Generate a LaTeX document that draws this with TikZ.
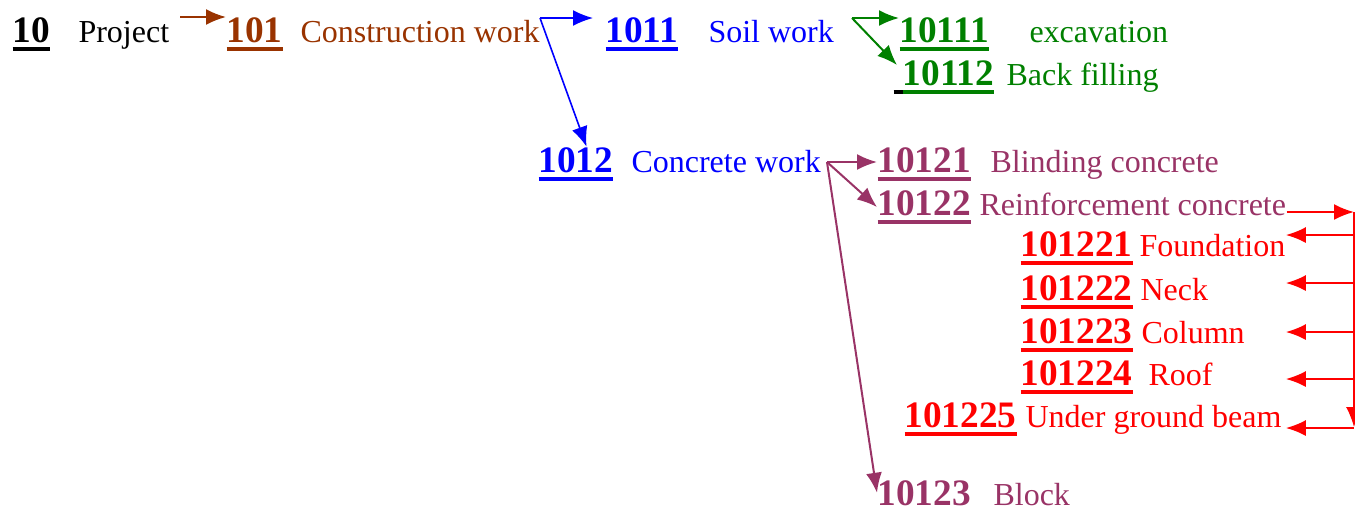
\documentclass[tikz,border=0pt]{standalone}
\usepackage{fontspec}
\setmainfont{Liberation Serif}
\usetikzlibrary{arrows.meta}

\definecolor{brn}{HTML}{993300}
\definecolor{grn}{HTML}{008000}
\definecolor{prp}{HTML}{993366}

% thick underline under the code numbers
\newcommand\codeline[1]{\setbox0\hbox{#1}\rlap{\rule[-3.3pt]{\wd0}{1.3pt}}\box0}

\begin{document}
\begin{tikzpicture}[x=0.375pt, y=-0.375pt,
    code/.style={anchor=base west, inner sep=0pt, font=\fontsize{14}{16}\selectfont\bfseries},
    txt/.style={anchor=base west, inner sep=0pt, font=\fontsize{12}{14}\selectfont},
    arr/.style={-{Latex[length=7.5pt, width=6pt]}, line width=0.75pt}]
    \useasboundingbox (0,0) rectangle (1355,510);

    % level 1 and 2
    \node[code] (n10) at (12,42) {\codeline{10}};
    \node[txt] (tProject) at (78,42) {Project};
    \node[code, text=brn] (n101) at (226,42) {\codeline{101}};
    \node[txt, text=brn] (tConstr) at (300,42) {Construction work};

    % level 3
    \node[code, text=blue] (n1011) at (605,42) {\codeline{1011}};
    \node[txt, text=blue] (tSoil) at (708,42) {Soil work};
    \node[code, text=blue] (n1012) at (538,172) {\codeline{1012}};
    \node[txt, text=blue] (tConc) at (631,172) {Concrete work};

    % soil work
    \node[code, text=grn] (n10111) at (899,42) {\codeline{10111}};
    \node[txt, text=grn] (tExc) at (1029,42) {excavation};
    \node[code, text=grn] (n10112) at (893,85) {{\color{black}\codeline{\ }}\codeline{10112}};
    \node[txt, text=grn] (tBack) at (1006,85) {Back filling};

    % concrete work
    \node[code, text=prp] (n10121) at (877,172) {\codeline{10121}};
    \node[txt, text=prp] (tBlind) at (990,172) {Blinding concrete};
    \node[code, text=prp] (n10122) at (877,215) {\codeline{10122}};
    \node[txt, text=prp] (tReinf) at (979,215) {Reinforcement concrete};
    \node[code, text=prp] (n10123) at (877,505) {10123};
    \node[txt, text=prp] (tBlock) at (993,505) {Block};

    % reinforcement concrete
    \node[code, text=red] (n101221) at (1020,256) {\codeline{101221}};
    \node[txt, text=red] (tFound) at (1139,256) {Foundation};
    \node[code, text=red] (n101222) at (1020,300) {\codeline{101222}};
    \node[txt, text=red] (tNeck) at (1140,300) {Neck};
    \node[code, text=red] (n101223) at (1020,343) {\codeline{101223}};
    \node[txt, text=red] (tColumn) at (1141,343) {Column};
    \node[code, text=red] (n101224) at (1020,385) {\codeline{101224}};
    \node[txt, text=red] (tRoof) at (1148,385) {Roof};
    \node[code, text=red] (n101225) at (904,427) {\codeline{101225}};
    \node[txt, text=red] (tUnder) at (1025,427) {Under ground beam};

    % arrows
    \coordinate (b0) at (180,17);
    \draw[arr, brn] (b0) -- (b0 -| n101.west);

    \coordinate (b1) at (540,18);
    \draw[arr, blue, line width=0.6pt] (b1) -- ([xshift=-4.5pt]b1 -| n1011.west);
    \draw[arr, blue, line width=0.6pt] (b1) -- ([xshift=4pt]n1012.north);

    \coordinate (g1) at (852,18);
    \draw[arr, grn] (g1) -- (g1 -| n10111.west);
    \draw[arr, grn] (g1) -- ([shift={(1.5pt,-2pt)}]n10112.north west);

    \coordinate (p1) at (827,162);
    \draw[arr, prp] (p1) -- (p1 -| n10121.west);
    \draw[arr, prp] (p1) -- (n10122.west);
    \draw[arr, prp] (p1) -- (n10123.west);

    \coordinate (rtop) at (1354,212);
    \coordinate (rbot) at (1354,427);
    \draw[arr, red] (tReinf.east |- rtop) -- (rtop);
    \draw[arr, red, line width=0.5pt] (rtop) -- (rbot);
    \foreach \y/\n in {235/1, 283/2, 332/3, 379/4, 428/5} {
        \coordinate (r\n) at (1354,\y);
        \draw[arr, red] (r\n) -- (r\n -| tFound.east);
    }
\end{tikzpicture}
\end{document}
